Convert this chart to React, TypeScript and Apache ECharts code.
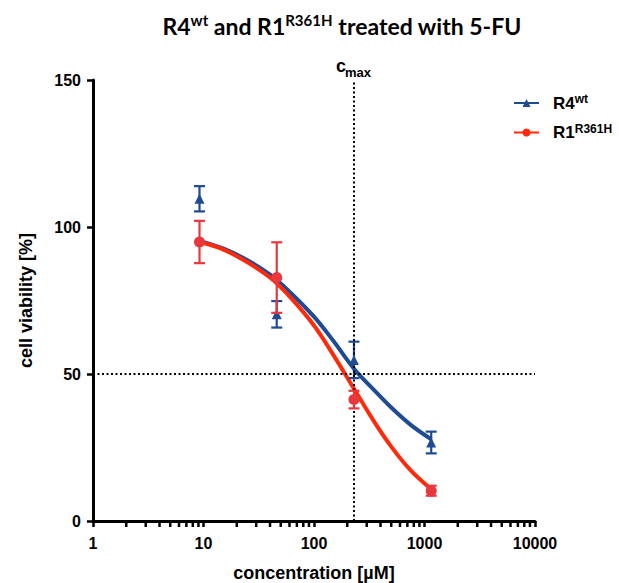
import React, { useEffect, useRef } from "react";
import * as echarts from "echarts";

// ---- data ----
const concentrations = [9.2, 46, 230, 1150];
const r4Mean = [109.6, 70.3, 54.8, 26.7];
const r4Upper = [113.9, 74.8, 61.0, 30.4];
const r4Lower = [105.3, 65.8, 48.6, 23.0];
const r1Mean = [94.9, 82.8, 41.3, 10.3];
const r1Upper = [102.1, 94.8, 44.3, 12.0];
const r1Lower = [87.7, 70.8, 38.3, 8.6];

const fitX = [9.2, 15, 25, 40, 60, 100, 150, 230, 350, 500, 750, 1150];
const r4Fit = [95.3, 92.7, 88.7, 83.8, 78.0, 69.5, 61.2, 51.8, 44.5, 38.6, 32.7, 27.8];
const r1Fit = [95.0, 92.4, 88.0, 82.8, 76.4, 66.5, 56.4, 45.0, 33.8, 25.3, 17.2, 10.8];

const cmaxValue = 230;
const halfViability = 50;
const yTicks = [0, 50, 100, 150];
const minorTicks = [2, 3, 4, 5, 6, 7, 8, 9, 20, 30, 40, 50, 60, 70, 80, 90, 200, 300, 400, 500, 600, 700, 800, 900, 2000, 3000, 4000, 5000, 6000, 7000, 8000, 9000];

const BLUE = "#1f4b94";
const RED_MARK = "#e8383d";
const RED_LINE = "#ff2a0a";
const ARIAL = "'Liberation Sans', Arial, sans-serif";

function errorBars(color: string) {
  return (params: any, api: any) => {
    const x = api.value(0);
    const hi = api.coord([x, api.value(1)]);
    const lo = api.coord([x, api.value(2)]);
    const w = 5.5;
    const style = { stroke: color, lineWidth: 2.2 };
    return {
      type: "group",
      children: [
        { type: "line", shape: { x1: hi[0], y1: hi[1], x2: lo[0], y2: lo[1] }, style },
        { type: "line", shape: { x1: hi[0] - w, y1: hi[1], x2: hi[0] + w, y2: hi[1] }, style },
        { type: "line", shape: { x1: lo[0] - w, y1: lo[1], x2: lo[0] + w, y2: lo[1] }, style },
      ],
    };
  };
}

export default function App() {
  const ref = useRef<HTMLDivElement>(null);
  useEffect(() => {
    if (!ref.current) return;
    const chart = echarts.init(ref.current, undefined, { renderer: "svg" });
    const legendRich = {
      g: { width: 9 },
      b: { fontSize: 17, fontWeight: "bold", fontFamily: ARIAL, color: "#000", lineHeight: 20 },
      s: { fontSize: 12, fontWeight: "bold", fontFamily: ARIAL, color: "#000", verticalAlign: "top", lineHeight: 12 },
    };
    chart.setOption({
      animation: false,
      backgroundColor: "#fff",
      grid: { left: 93, width: 442, top: 80, height: 441, containLabel: false, outerBoundsMode: "none" },
      xAxis: {
        type: "log",
        logBase: 10,
        min: 1,
        max: 10000,
        name: "concentration [µM]",
        nameLocation: "middle",
        nameGap: 43,
        nameTextStyle: { fontSize: 18, fontWeight: "bold", fontFamily: ARIAL, color: "#000" },
        axisLine: { lineStyle: { color: "#000", width: 3 } },
        axisTick: { show: true, length: 6, lineStyle: { color: "#000", width: 2.5 } },
        axisLabel: {
          fontSize: 16,
          fontWeight: "bold",
          fontFamily: ARIAL,
          color: "#000",
          margin: 14,
          formatter: (v: number) => String(Math.round(v)),
        },
        splitLine: { show: false },
        minorTick: { show: false },
      },
      yAxis: {
        type: "value",
        min: 0,
        max: 150,
        interval: 50,
        name: "cell viability [%]",
        nameLocation: "middle",
        nameGap: 58,
        nameTextStyle: { fontSize: 18, fontWeight: "bold", fontFamily: ARIAL, color: "#000" },
        axisLine: { show: true, lineStyle: { color: "#000", width: 3 } },
        axisTick: { show: true, length: 6, lineStyle: { color: "#000", width: 2.5 } },
        axisLabel: {
          fontSize: 16,
          fontWeight: "bold",
          fontFamily: ARIAL,
          color: "#000",
          margin: 12,
          formatter: (v: number) => (yTicks.includes(v) ? String(v) : ""),
        },
        splitLine: { show: false },
      },
      legend: {
        orient: "vertical",
        left: 508,
        top: 88,
        itemWidth: 25,
        itemHeight: 10,
        itemGap: 11,
        data: ["R4wt", "R1R361H"],
        textStyle: { rich: legendRich },
        formatter: (name: string) => (name === "R4wt" ? "{g| }{b|R4}{s|wt}" : "{g| }{b|R1}{s|R361H}"),
      },
      graphic: [
        {
          type: "text",
          x: 342,
          y: 26,
          style: {
            text: "{m|R4}{s|wt}{m| and R1}{s|R361H}{m| treated with 5-FU}",
            align: "center",
            verticalAlign: "middle",
            rich: {
              m: { fontSize: 23, fontWeight: "bold", fontFamily: "Lato, sans-serif", fill: "#000", lineHeight: 27 },
              s: { fontSize: 15, fontWeight: "bold", fontFamily: "Lato, sans-serif", fill: "#000", verticalAlign: "top", lineHeight: 15 },
            },
          },
        },
        {
          type: "text",
          x: 336,
          y: 66,
          style: { text: "c", fontSize: 18, fontWeight: "bold", fontFamily: ARIAL, fill: "#000", align: "left", verticalAlign: "middle" },
        },
        {
          type: "text",
          x: 345,
          y: 72,
          style: { text: "max", fontSize: 13, fontWeight: "bold", fontFamily: ARIAL, fill: "#000", align: "left", verticalAlign: "middle" },
        },
      ],
      series: [
        {
          name: "minorTicks",
          type: "custom",
          silent: true,
          clip: false,
          data: minorTicks.map((v) => [v, 0]),
          renderItem: (params: any, api: any) => {
            const p = api.coord([api.value(0), 0]);
            return {
              type: "line",
              shape: { x1: p[0], y1: p[1], x2: p[0], y2: p[1] + 6 },
              style: { stroke: "#000", lineWidth: 2.5 },
            };
          },
          z: 1,
        },
        {
          name: "refLines",
          type: "line",
          data: [],
          markLine: {
            silent: true,
            symbol: "none",
            label: { show: false },
            lineStyle: { color: "#000", width: 2, type: [2, 2.5] },
            data: [{ xAxis: cmaxValue }, { yAxis: halfViability }],
          },
          z: 1,
        },
        {
          name: "R4wt",
          type: "line",
          smooth: 0.35,
          symbol: "triangle",
          symbolSize: 10,
          showSymbol: false,
          color: BLUE,
          lineStyle: { color: BLUE, width: 4 },
          data: fitX.map((x, i) => [x, r4Fit[i]]),
          z: 2,
        },
        {
          name: "R1R361H",
          type: "line",
          smooth: 0.35,
          symbol: "circle",
          symbolSize: 10,
          showSymbol: false,
          color: RED_LINE,
          lineStyle: { color: RED_LINE, width: 4 },
          data: fitX.map((x, i) => [x, r1Fit[i]]),
          z: 3,
        },
        {
          name: "r4err",
          type: "custom",
          renderItem: errorBars(BLUE),
          data: concentrations.map((x, i) => [x, r4Upper[i], r4Lower[i]]),
          z: 4,
        },
        {
          name: "r4pts",
          type: "scatter",
          symbol: "triangle",
          symbolSize: 10,
          itemStyle: { color: BLUE, opacity: 1 },
          data: concentrations.map((x, i) => [x, r4Mean[i]]),
          z: 5,
        },
        {
          name: "r1err",
          type: "custom",
          renderItem: errorBars(RED_MARK),
          data: concentrations.map((x, i) => [x, r1Upper[i], r1Lower[i]]),
          z: 6,
        },
        {
          name: "r1pts",
          type: "scatter",
          symbol: "circle",
          symbolSize: 11,
          itemStyle: { color: RED_MARK, opacity: 1 },
          data: concentrations.map((x, i) => [x, r1Mean[i]]),
          z: 7,
        },
      ],
    });
    return () => chart.dispose();
  }, []);
  return <div ref={ref} style={{ width: 619, height: 583, position: "fixed", left: 0, top: 0 }} />;
}
